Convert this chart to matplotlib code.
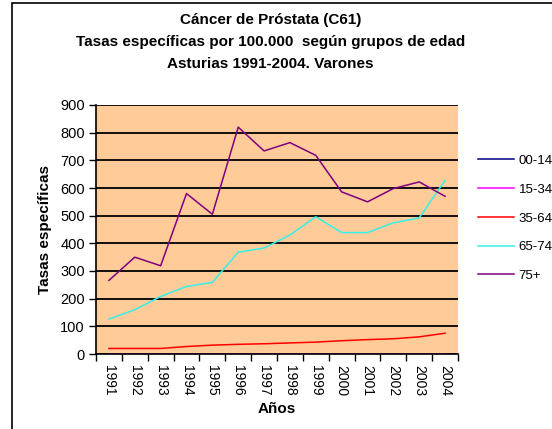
import matplotlib
matplotlib.use("Agg")
import matplotlib.pyplot as plt
import numpy as np
from matplotlib.patches import Rectangle

plt.rcParams['font.family'] = ['Liberation Sans', 'DejaVu Sans']

years = ['1991', '1992', '1993', '1994', '1995', '1996', '1997',
         '1998', '1999', '2000', '2001', '2002', '2003', '2004']
labels = ['00-14', '15-34', '35-64', '65-74', '75+']
colors = ['#000080', '#FF00FF', '#FF0000', '#33F0E8', '#800080']

g_00_14 = [0, 0, 0, 0, 0, 0, 0, 0, 0, 0, 0, 0, 0, 0]
g_15_34 = [0, 0, 0, 0, 0, 0, 0, 0, 0, 0, 0, 0, 0, 0]
g_35_64 = [20, 20, 20, 27, 32, 35, 37, 40, 43, 48, 52, 55, 62, 75]
g_65_74 = [126, 160, 208, 244, 259, 368, 383, 430, 496, 439, 439, 474, 492, 628]
g_75 = [266, 350, 319, 580, 505, 820, 734, 764, 718, 586, 550, 598, 622, 570]

series = [g_00_14, g_15_34, g_35_64, g_65_74, g_75]

fig = plt.figure(figsize=(5.52, 4.29), dpi=100)
ax = fig.add_axes([96/552, 1-354/429, (458-96)/552, (354-105)/429])
ax.set_facecolor('#FFCC99')

x = np.arange(len(years))
for vals, lab, col in zip(series, labels, colors):
    ax.plot(x, vals, color=col, lw=1.1, label=lab)

ax.set_xlim(-0.5, len(years) - 0.5)
ax.set_ylim(0, 900)
ax.set_yticks(np.arange(0, 901, 100))
ax.yaxis.grid(True, color='black', lw=1.3)
ax.set_axisbelow(True)
ax.set_xticks(x)
ax.set_xticklabels(years, rotation=-90, fontsize=10)
ax.set_xticks(np.arange(-0.5, len(years), 1), minor=True)
ax.tick_params(axis='x', which='major', length=0, pad=8)
ax.tick_params(axis='x', which='minor', length=5, width=1)
ax.tick_params(axis='y', length=5, width=1, labelsize=10.5, pad=3)
for s in ['top', 'right']:
    ax.spines[s].set_visible(False)
ax.spines['left'].set_linewidth(1.2)
ax.spines['bottom'].set_linewidth(1.2)

ax.set_ylabel('Tasas específicas', fontsize=11, fontweight='bold', labelpad=6)
ax.set_xlabel('Años', fontsize=11, fontweight='bold', labelpad=4)

fig.text(0.49, 1-20/429, 'Cáncer de Próstata (C61)', ha='center', va='center',
         fontsize=11, fontweight='bold')
fig.text(0.49, 1-42/429, 'Tasas específicas por 100.000  según grupos de edad', ha='center',
         va='center', fontsize=11, fontweight='bold')
fig.text(0.49, 1-64/429, 'Asturias 1991-2004. Varones', ha='center', va='center',
         fontsize=11, fontweight='bold')

fig.legend(loc='upper left', bbox_to_anchor=(466/552, 1-143/429), frameon=False,
           fontsize=9.5, handlelength=2.7, labelspacing=1.25, handletextpad=0.4)

fig.patches.append(Rectangle((12/552, -0.1), 1.2, 1 - 3/429 + 0.1, transform=fig.transFigure,
                             fill=False, edgecolor='black', lw=1.2))

fig.savefig('out.png', dpi=100)
